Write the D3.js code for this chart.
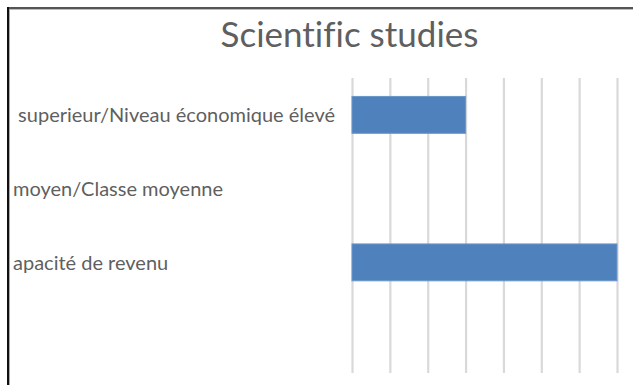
<!DOCTYPE html>
<html><head><meta charset="utf-8">
<script src="https://cdn.jsdelivr.net/npm/d3@7"></script>
<style>html,body{margin:0;padding:0;background:#fff;overflow:hidden} text{font-variant-ligatures:none;white-space:pre}</style>
</head><body>
<svg id="c" width="633" height="385"></svg>
<script>
const title = "Scientific studies";
const categories = [" superieur/Niveau économique élevé", "moyen/Classe moyenne", "apacité de revenu", ""];
const values = [3, 0, 7, 0];
const xTicks = [0, 1, 2, 3, 4, 5, 6, 7];

const W = 633, H = 385;
const svg = d3.select("#c");
svg.append("rect").attr("width", W).attr("height", H).attr("fill", "#fff");

const plot = {left: 352, right: 617, top: 78, bottom: 373};
const x = d3.scaleLinear().domain([0, 7]).range([plot.left, plot.right]);
const y = d3.scaleBand().domain(categories).range([plot.top, plot.bottom]).paddingInner(0.5).paddingOuter(0.25);

svg.append("defs").append("clipPath").attr("id", "clipL")
  .append("rect").attr("x", 12).attr("y", 0).attr("width", W - 12).attr("height", H);

const g = svg.append("g").attr("clip-path", "url(#clipL)");

// gridlines
g.append("g").attr("transform", `translate(0,${plot.bottom})`)
  .call(d3.axisBottom(x).tickValues(xTicks).tickSize(-(plot.bottom - plot.top)).tickFormat(""))
  .call(s => s.select(".domain").remove())
  .call(s => s.selectAll(".tick line").attr("stroke", "#d9d9d9").attr("stroke-width", 2.2));

// bars
g.append("g").selectAll("rect").data(categories.map((c, i) => ({c, v: values[i]})).filter(d => d.v > 0))
  .join("rect")
  .attr("x", x(0)).attr("y", d => y(d.c))
  .attr("width", d => x(d.v) - x(0)).attr("height", y.bandwidth())
  .attr("fill", "#4f81bd").attr("stroke", "#6b96c9").attr("stroke-width", 1);

// category labels
g.append("g").attr("transform", `translate(${plot.left},0)`)
  .call(d3.axisLeft(y).tickSize(0))
  .call(s => s.select(".domain").remove())
  .call(s => s.selectAll(".tick text")
    .attr("text-anchor", "start").attr("x", 13 - plot.left).attr("dy", "0.38em")
    .attr("fill", "#5f5f5f").style("font-family", "Lato, 'Open Sans', sans-serif").style("font-size", "20px"));

// title
svg.append("text").attr("x", 349.5).attr("y", 47).attr("text-anchor", "middle")
  .attr("fill", "#5f5f5f").style("font-family", "Lato, 'Open Sans', sans-serif").style("font-size", "35px")
  .text(title);

// frame
svg.append("rect").attr("x", 7).attr("y", 7).attr("width", W - 7).attr("height", 2).attr("fill", "#555");
svg.append("rect").attr("x", 9).attr("y", 9).attr("width", W - 9).attr("height", 1).attr("fill", "#bbb");
svg.append("rect").attr("x", 7).attr("y", 7).attr("width", 2).attr("height", H - 7).attr("fill", "#111");
svg.append("rect").attr("x", 9).attr("y", 9).attr("width", 1).attr("height", H - 9).attr("fill", "#aaa");
</script>
</body></html>
